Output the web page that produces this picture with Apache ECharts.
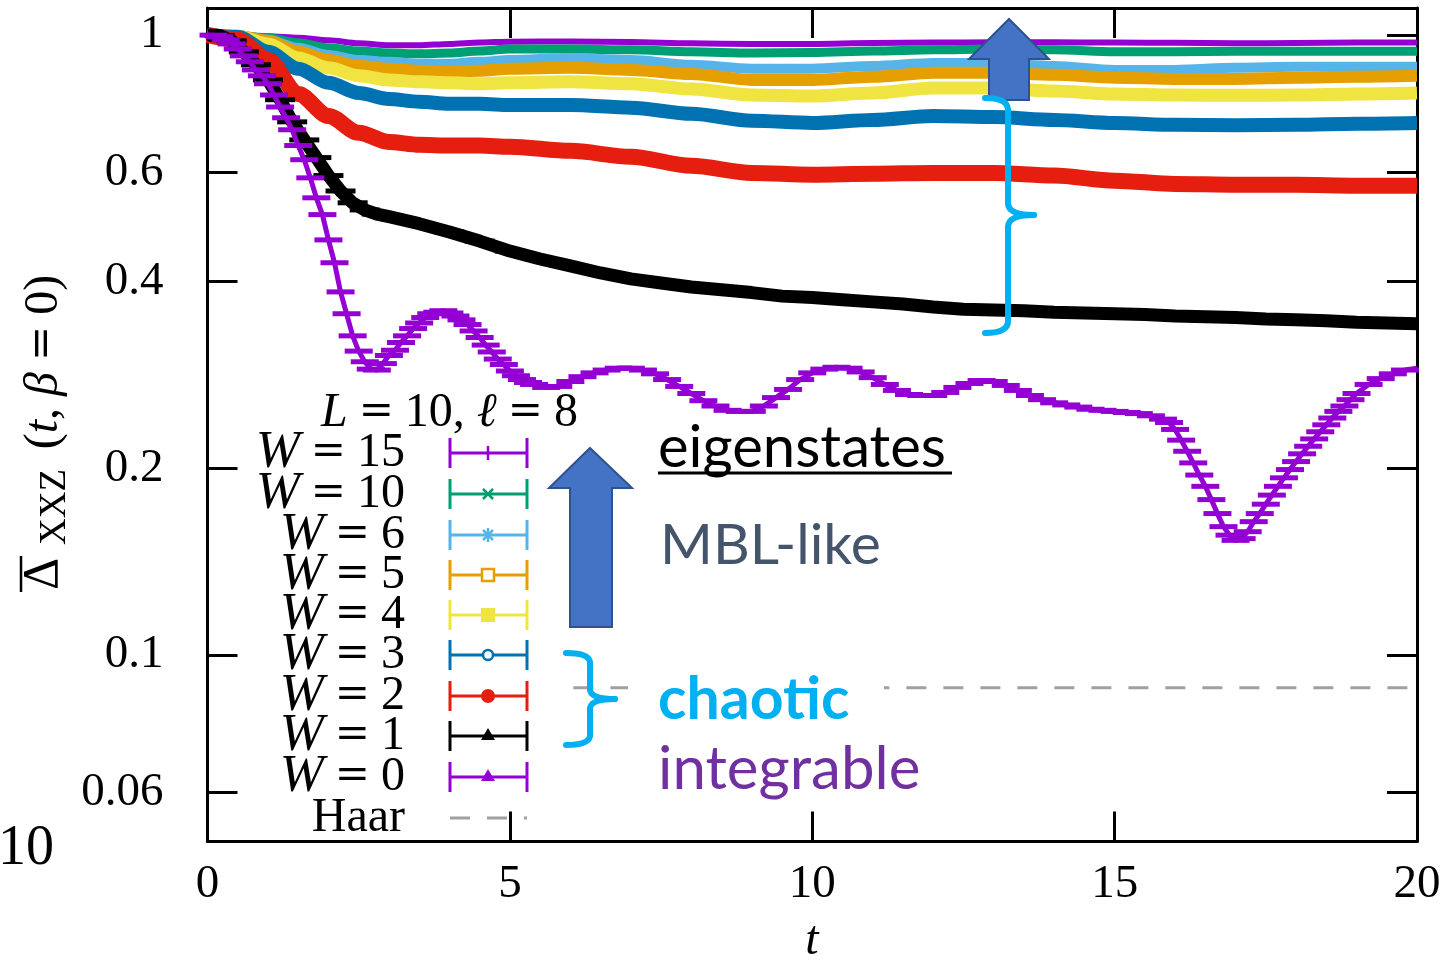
<!DOCTYPE html>
<html>
<head>
<meta charset="utf-8">
<script src="https://cdn.jsdelivr.net/npm/echarts@6/dist/echarts.min.js"></script>
<style>
  html, body { margin: 0; padding: 0; background: #ffffff; }
  #chart { width: 1447px; height: 961px; }
</style>
</head>
<body>
<div id="chart"></div>
<script>
// ---- data: disorder strengths W, time grid t and the averaged Delta_XXZ(t, beta = 0) ----
const wValues = [15, 10, 6, 5, 4, 3, 2, 1, 0];

// common time grid for the W >= 2 curves
const tBase = [0, 0.5, 1, 1.5, 2, 2.5, 3, 3.5, 4, 4.5, 5, 6, 7, 8, 9, 10, 11, 12, 13, 14, 15, 16, 17, 18, 19, 20];

const vW15 = [1.0, 0.998, 0.995, 0.989, 0.980, 0.969, 0.962, 0.962, 0.967, 0.972, 0.975,
  0.976, 0.974, 0.969, 0.967, 0.967, 0.970, 0.972, 0.973, 0.973, 0.972, 0.971, 0.969, 0.970, 0.972, 0.972];
const vW10 = [1.0, 0.997, 0.989, 0.971, 0.953, 0.942, 0.935, 0.932, 0.935, 0.942, 0.949,
  0.949, 0.946, 0.939, 0.935, 0.937, 0.942, 0.946, 0.949, 0.946, 0.939, 0.939, 0.941, 0.941, 0.941, 0.941];
const vW6 = [1.0, 0.997, 0.982, 0.953, 0.928, 0.911, 0.905, 0.898, 0.898, 0.905, 0.911,
  0.918, 0.911, 0.895, 0.882, 0.882, 0.891, 0.901, 0.901, 0.891, 0.878, 0.878, 0.885, 0.888, 0.888, 0.888];
const vW5 = [1.0, 0.996, 0.978, 0.939, 0.911, 0.891, 0.882, 0.875, 0.872, 0.875, 0.882,
  0.885, 0.878, 0.865, 0.846, 0.846, 0.856, 0.869, 0.869, 0.862, 0.853, 0.849, 0.849, 0.853, 0.856, 0.859];
const vW4 = [1.0, 0.995, 0.967, 0.918, 0.885, 0.859, 0.846, 0.840, 0.837, 0.834, 0.837,
  0.840, 0.834, 0.818, 0.800, 0.797, 0.806, 0.821, 0.821, 0.812, 0.803, 0.800, 0.799, 0.800, 0.803, 0.806];
const vW3 = [1.0, 0.993, 0.939, 0.882, 0.837, 0.806, 0.788, 0.780, 0.774, 0.774, 0.771,
  0.771, 0.763, 0.746, 0.727, 0.721, 0.729, 0.740, 0.737, 0.729, 0.721, 0.716, 0.715, 0.716, 0.719, 0.721];
const vW2 = [1.0, 0.982, 0.911, 0.803, 0.740, 0.695, 0.672, 0.665, 0.663, 0.663, 0.660,
  0.650, 0.636, 0.615, 0.599, 0.595, 0.597, 0.599, 0.599, 0.593, 0.582, 0.575, 0.573, 0.573, 0.571, 0.571];

const tW1 = [0, 0.2, 0.4, 0.6, 0.8, 1.0, 1.2, 1.4, 1.6, 1.8, 2.0, 2.2, 2.4, 2.6, 2.8, 3.0,
  3.5, 4, 4.5, 5, 5.5, 6, 6.5, 7, 7.5, 8, 8.5, 9, 9.5, 10, 10.5, 11, 11.5, 12, 12.5, 13,
  13.5, 14, 14.5, 15, 15.5, 16, 16.5, 17, 17.5, 18, 18.5, 19, 19.5, 20];
const vW1 = [1.0, 0.998, 0.978, 0.939, 0.895, 0.846, 0.786, 0.724, 0.677, 0.634, 0.593, 0.560, 0.536, 0.522, 0.514, 0.509,
  0.496, 0.481, 0.465, 0.448, 0.435, 0.424, 0.413, 0.404, 0.398, 0.392, 0.388, 0.384, 0.379, 0.377, 0.374, 0.371,
  0.368, 0.364, 0.361, 0.360, 0.359, 0.357, 0.356, 0.355, 0.354, 0.352, 0.351, 0.350, 0.348, 0.347, 0.346, 0.344,
  0.343, 0.342];

const tW0 = [0, 0.1, 0.2, 0.3, 0.4, 0.5, 0.6, 0.7, 0.8, 0.9, 1.0, 1.1, 1.2, 1.3, 1.4, 1.5, 1.6, 1.7, 1.8, 1.9,
  2.0, 2.1, 2.2, 2.3, 2.4, 2.5, 2.6, 2.7, 2.8, 2.9, 3.0,
  3.1, 3.2, 3.3, 3.4, 3.5, 3.6, 3.7, 3.8, 3.9, 4.0, 4.1, 4.2, 4.3, 4.4, 4.5, 4.6, 4.7, 4.8, 4.9, 5.0,
  5.1, 5.2, 5.3, 5.4,
  5.6, 5.8, 6.0, 6.2, 6.4, 6.6, 6.8, 7.0, 7.2, 7.4, 7.6, 7.8, 8.0, 8.2, 8.4, 8.6, 8.8, 9.0, 9.2, 9.4,
  9.6, 9.8, 10.0, 10.2, 10.4, 10.6, 10.8, 11.0, 11.2, 11.4, 11.6, 11.8, 12.0, 12.2, 12.4, 12.6, 12.8,
  13.0, 13.2, 13.4, 13.6, 13.8, 14.0, 14.2, 14.4, 14.6, 14.8, 15.0, 15.2, 15.4, 15.6, 15.8,
  15.9, 16.0, 16.1, 16.2, 16.3, 16.4, 16.5, 16.6, 16.7, 16.8, 16.9, 17.0, 17.1, 17.2, 17.3, 17.4,
  17.5, 17.6, 17.7, 17.8, 17.9, 18.0, 18.1, 18.2, 18.3, 18.4, 18.5, 18.6, 18.7, 18.8, 18.9, 19.0,
  19.2, 19.4, 19.6, 19.8, 20.0];
const vW0 = [1.0, 0.999, 0.993, 0.982, 0.967, 0.949, 0.925, 0.905, 0.878, 0.859, 0.834, 0.800, 0.765, 0.735, 0.703,
  0.663, 0.629, 0.588, 0.546, 0.513, 0.467, 0.429, 0.385, 0.355, 0.327, 0.309, 0.297, 0.289, 0.288, 0.295, 0.304,
  0.310, 0.319, 0.327, 0.336, 0.343, 0.350, 0.355, 0.357, 0.359, 0.356, 0.352, 0.347, 0.341, 0.333, 0.325, 0.316,
  0.308, 0.300, 0.294, 0.287, 0.282, 0.278, 0.275, 0.273,
  0.270, 0.271, 0.276, 0.281, 0.285, 0.288, 0.290, 0.290, 0.288, 0.284, 0.278, 0.271, 0.264, 0.257, 0.252, 0.248,
  0.247, 0.247, 0.252, 0.260, 0.268, 0.278, 0.285, 0.289, 0.291, 0.290, 0.286, 0.280, 0.273, 0.267, 0.263, 0.262,
  0.262, 0.265, 0.270, 0.274, 0.277, 0.276, 0.272, 0.267, 0.262, 0.258, 0.255, 0.253, 0.251, 0.249, 0.248, 0.247,
  0.246, 0.245, 0.243, 0.240,
  0.237, 0.231, 0.222, 0.213, 0.204, 0.195, 0.187, 0.178, 0.169, 0.161, 0.156, 0.153, 0.154, 0.158, 0.164, 0.169,
  0.175, 0.181, 0.187, 0.193, 0.199, 0.205, 0.211, 0.217, 0.223, 0.229, 0.235, 0.241, 0.247, 0.252, 0.258, 0.264,
  0.273, 0.279, 0.284, 0.288, 0.290];

// Haar-random reference value and the stretch of t over which its line is drawn
const haarValue = 0.0885;
const haarT = [6.05, 20];

// axis ranges and tick labels
const yMin = 0.05, yMax = 1.105;
const yTickValues = [0.06, 0.1, 0.2, 0.4, 0.6, 1];
const yTickLabels = ['0.06', '0.1', '0.2', '0.4', '0.6', '1'];
const xMin = 0, xMax = 20, xStep = 5;

// ---- styling ----
const SERIF = "'Liberation Serif', 'DejaVu Serif', serif";
const SANS = "Lato, 'Noto Sans', sans-serif";
const colors = ['#9400D3', '#009E73', '#56B4E9', '#E69F00', '#F0E442', '#0072B2', '#E51E10', '#000000', '#9400D3'];
const bandWidth = [6, 9, 10, 12, 13, 14, 16, 13, 5];
const markerKinds = ['plus', 'cross', 'star', 'openSquare', 'square', 'openCircle', 'circle', 'triangle', 'triangle'];

const LOG = Math.log10;
// points of a curve; the error-bar caps are left off the two end points so they stay inside the frame
const pts = (t, v) => t.map((x, i) => {
  const p = [x, LOG(v[i])];
  return (i === 0 || i === t.length - 1) ? { value: p, symbol: 'none' } : p;
});
const curveTimes = [tBase, tBase, tBase, tBase, tBase, tBase, tBase, tW1, tW0];
const curveValues = [vW15, vW10, vW6, vW5, vW4, vW3, vW2, vW1, vW0];
const yTickLog = yTickValues.map(LOG);

const series = wValues.map((w, i) => {
  const withCaps = (w <= 1);
  return {
    name: 'W = ' + w,
    type: 'line',
    xAxisIndex: 0,
    yAxisIndex: 0,
    data: pts(curveTimes[i], curveValues[i]),
    smooth: withCaps ? false : 0.3,
    smoothMonotone: 'x',
    showSymbol: withCaps,
    symbol: 'rect',
    symbolSize: w === 1 ? [30, 5] : [28, 5],
    itemStyle: { color: colors[i] },
    lineStyle: { color: colors[i], width: bandWidth[i], cap: 'butt', join: 'round' },
    emphasis: { disabled: true },
    z: 2 + i
  };
});

series.unshift({
  name: 'Haar',
  type: 'line',
  data: haarT.map(t => [t, LOG(haarValue)]),
  showSymbol: false,
  lineStyle: { color: '#A0A0A0', width: 3, type: [20, 17] },
  emphasis: { disabled: true },
  z: 1
});

// ---- key (legend) drawn as graphics ----
const keyRowY = [453, 494, 535, 575, 615, 655, 696, 736, 777];
const haarRowY = 818;
const keyLabelRight = 405, sampleL = 450, sampleR = 527, sampleMid = 488;

function markerGlyph(kind, x, y, c) {
  const ls = { stroke: c, lineWidth: 2.5 };
  switch (kind) {
    case 'plus': return [{ type: 'line', shape: { x1: x, y1: y - 7, x2: x, y2: y + 7 }, style: ls }];
    case 'cross': return [
      { type: 'line', shape: { x1: x - 5, y1: y - 5, x2: x + 5, y2: y + 5 }, style: ls },
      { type: 'line', shape: { x1: x - 5, y1: y + 5, x2: x + 5, y2: y - 5 }, style: ls }];
    case 'star': return [
      { type: 'line', shape: { x1: x, y1: y - 7, x2: x, y2: y + 7 }, style: ls },
      { type: 'line', shape: { x1: x - 5, y1: y - 5, x2: x + 5, y2: y + 5 }, style: ls },
      { type: 'line', shape: { x1: x - 5, y1: y + 5, x2: x + 5, y2: y - 5 }, style: ls }];
    case 'openSquare': return [{ type: 'rect', shape: { x: x - 6, y: y - 6, width: 12, height: 12 }, style: { fill: '#fff', stroke: c, lineWidth: 2.5 } }];
    case 'square': return [{ type: 'rect', shape: { x: x - 7, y: y - 7, width: 14, height: 14 }, style: { fill: c } }];
    case 'openCircle': return [{ type: 'circle', shape: { cx: x, cy: y, r: 5 }, style: { fill: '#fff', stroke: c, lineWidth: 2.5 } }];
    case 'circle': return [{ type: 'circle', shape: { cx: x, cy: y, r: 7 }, style: { fill: c } }];
    default: return [{ type: 'polygon', shape: { points: [[x, y - 8], [x + 7, y + 4], [x - 7, y + 4]] }, style: { fill: c } }];
  }
}

const mathRich = {
  n: { fontFamily: SERIF, fontSize: 48, color: '#000' },
  i: { fontFamily: SERIF, fontSize: 48, fontStyle: 'italic', color: '#000' },
  w: { fontFamily: SERIF, fontSize: 53, fontStyle: 'italic', color: '#000' },
  e: { fontFamily: "'DejaVu Serif', serif", fontSize: 42, color: '#000', padding: [0, 11] }
};

const graphics = [];
graphics.push({
  type: 'text', x: 578, y: 413, z: 20,
  style: { text: '{i|L}{e|=}{n|10, }{i|ℓ}{e|=}{n|8}', rich: mathRich, align: 'right', verticalAlign: 'middle' }
});
wValues.forEach((w, i) => {
  const y = keyRowY[i], c = colors[i];
  graphics.push({
    type: 'text', x: keyLabelRight, y: y, z: 20,
    style: { text: '{w|W}{e|=}{n|' + w + '}', rich: mathRich, align: 'right', verticalAlign: 'middle' }
  });
  const ls = { stroke: c, lineWidth: 3 };
  graphics.push({ type: 'line', z: 20, shape: { x1: sampleL, y1: y, x2: sampleR, y2: y }, style: ls });
  graphics.push({ type: 'line', z: 20, shape: { x1: sampleL, y1: y - 15, x2: sampleL, y2: y + 15 }, style: ls });
  graphics.push({ type: 'line', z: 20, shape: { x1: sampleR, y1: y - 15, x2: sampleR, y2: y + 15 }, style: ls });
  markerGlyph(markerKinds[i], sampleMid, y, c).forEach(g => { g.z = 21; graphics.push(g); });
});
graphics.push({
  type: 'text', x: keyLabelRight, y: haarRowY, z: 20,
  style: { text: 'Haar', font: '48px ' + SERIF, fill: '#000', align: 'right', verticalAlign: 'middle' }
});
graphics.push({ type: 'line', z: 20, shape: { x1: sampleL, y1: haarRowY, x2: sampleR, y2: haarRowY },
  style: { stroke: '#A0A0A0', lineWidth: 3, lineDash: [20, 17] } });

// ---- axis titles ----
graphics.push({ type: 'text', x: 44, y: 574, rotation: Math.PI / 2, z: 20,
  style: { text: 'Δ', font: '50px ' + SERIF, fill: '#000', align: 'center', verticalAlign: 'middle' } });
graphics.push({ type: 'line', z: 20, shape: { x1: 21, y1: 592, x2: 21, y2: 556 }, style: { stroke: '#000', lineWidth: 2.5 } });
graphics.push({ type: 'text', x: 55, y: 507, rotation: Math.PI / 2, z: 20,
  style: { text: 'XXZ', font: '37px ' + SERIF, fill: '#000', align: 'center', verticalAlign: 'middle' } });
graphics.push({ type: 'text', x: 44, y: 362, rotation: Math.PI / 2, z: 20,
  style: { text: '{n|(}{i|t}{n|, }{i|β}{e|=}{n|0)}', rich: mathRich, align: 'center', verticalAlign: 'middle' } });
graphics.push({ type: 'text', x: 812, y: 941, z: 20,
  style: { text: 't', font: 'italic 48px ' + SERIF, fill: '#000', align: 'center', verticalAlign: 'middle' } });
graphics.push({ type: 'text', x: -2, y: 849, z: 20,
  style: { text: '10', font: '56px ' + SERIF, fill: '#000', align: 'left', verticalAlign: 'middle' } });

// ---- annotations: arrows, braces and phase labels ----
const arrowStyle = { fill: '#4472C4', stroke: '#2F528F', lineWidth: 2 };
graphics.push({ type: 'polygon', z: 30, shape: { points: [[590, 448], [632, 488], [612, 488], [612, 627], [570, 627], [570, 488], [549, 488]] }, style: arrowStyle });
graphics.push({ type: 'polygon', z: 30, shape: { points: [[1009, 19], [1049, 59], [1029, 59], [1029, 100], [989, 100], [989, 59], [969, 59]] }, style: arrowStyle });

// a right curly brace built from quadratic curves and straight strokes
function brace(xL, xV, xTip, yTop, yMid, yBot, r) {
  const st = { stroke: '#00B0F0', lineWidth: 6, fill: 'none', lineCap: 'round' };
  return [
    { type: 'bezierCurve', shape: { x1: xL, y1: yTop, cpx1: xV, cpy1: yTop, x2: xV, y2: yTop + r }, style: st },
    { type: 'line', shape: { x1: xV, y1: yTop + r, x2: xV, y2: yMid - r }, style: st },
    { type: 'bezierCurve', shape: { x1: xV, y1: yMid - r, cpx1: xV, cpy1: yMid, x2: xTip, y2: yMid }, style: st },
    { type: 'bezierCurve', shape: { x1: xTip, y1: yMid, cpx1: xV, cpy1: yMid, x2: xV, y2: yMid + r }, style: st },
    { type: 'line', shape: { x1: xV, y1: yMid + r, x2: xV, y2: yBot - r }, style: st },
    { type: 'bezierCurve', shape: { x1: xV, y1: yBot - r, cpx1: xV, cpy1: yBot, x2: xL, y2: yBot }, style: st }
  ];
}
brace(985, 1008, 1034, 98, 215, 333, 12).forEach(g => { g.z = 30; graphics.push(g); });
brace(566, 590, 615, 653, 699, 745, 10).forEach(g => { g.z = 30; graphics.push(g); });

graphics.push({ type: 'rect', z: 25, shape: { x: 628, y: 670, width: 256, height: 52 }, style: { fill: '#ffffff' } });
graphics.push({ type: 'text', x: 658, y: 448, z: 31,
  style: { text: 'eigenstates', font: '58px ' + SANS, fill: '#000', align: 'left', verticalAlign: 'middle' } });
graphics.push({ type: 'line', z: 31, shape: { x1: 658, y1: 473, x2: 952, y2: 473 }, style: { stroke: '#000', lineWidth: 3 } });
graphics.push({ type: 'text', x: 660, y: 546, z: 31,
  style: { text: 'MBL-like', font: '57px ' + SANS, fill: '#44546A', align: 'left', verticalAlign: 'middle' } });
graphics.push({ type: 'text', x: 658, y: 700, z: 31,
  style: { text: 'chaotic', font: 'bold 59px ' + SANS, fill: '#00B0F0', align: 'left', verticalAlign: 'middle' } });
graphics.push({ type: 'text', x: 658, y: 770, z: 31,
  style: { text: 'integrable', font: '60px ' + SANS, fill: '#7030A0', align: 'left', verticalAlign: 'middle' } });

// ---- axes ----
const frameLine = { onZero: false, lineStyle: { color: '#000', width: 3 } };
const inTick = { inside: true, length: 30, lineStyle: { color: '#000', width: 3 } };
const yLabelFmt = (val) => {
  const k = yTickLog.findIndex(l => Math.abs(l - val) < 1e-6);
  return k >= 0 ? yTickLabels[k] : '';
};

const option = {
  animation: false,
  backgroundColor: '#ffffff',
  grid: { left: 207.5, right: 30, top: 8, bottom: 119.5, containLabel: false },
  xAxis: [
    { type: 'value', min: xMin, max: xMax, interval: xStep, position: 'bottom',
      axisLine: frameLine, axisTick: inTick, splitLine: { show: false },
      axisLabel: { color: '#000', fontFamily: SERIF, fontSize: 47, margin: 20 } },
    { type: 'value', min: xMin, max: xMax, interval: xStep, position: 'top',
      axisLine: frameLine, axisTick: inTick, splitLine: { show: false }, axisLabel: { show: false } }
  ],
  yAxis: [
    { type: 'value', min: LOG(yMin), max: LOG(yMax), position: 'left',
      axisLine: frameLine, splitLine: { show: false },
      axisTick: Object.assign({ customValues: yTickLog }, inTick),
      axisLabel: { customValues: yTickLog, formatter: yLabelFmt, color: '#000', fontFamily: SERIF, fontSize: 47, margin: 44 } },
    { type: 'value', min: LOG(yMin), max: LOG(yMax), position: 'right',
      axisLine: frameLine, splitLine: { show: false },
      axisTick: Object.assign({ customValues: yTickLog }, inTick),
      axisLabel: { show: false, customValues: yTickLog } }
  ],
  series: series,
  graphic: { elements: graphics }
};

const chart = echarts.init(document.getElementById('chart'));
chart.setOption(option);
</script>
</body>
</html>
